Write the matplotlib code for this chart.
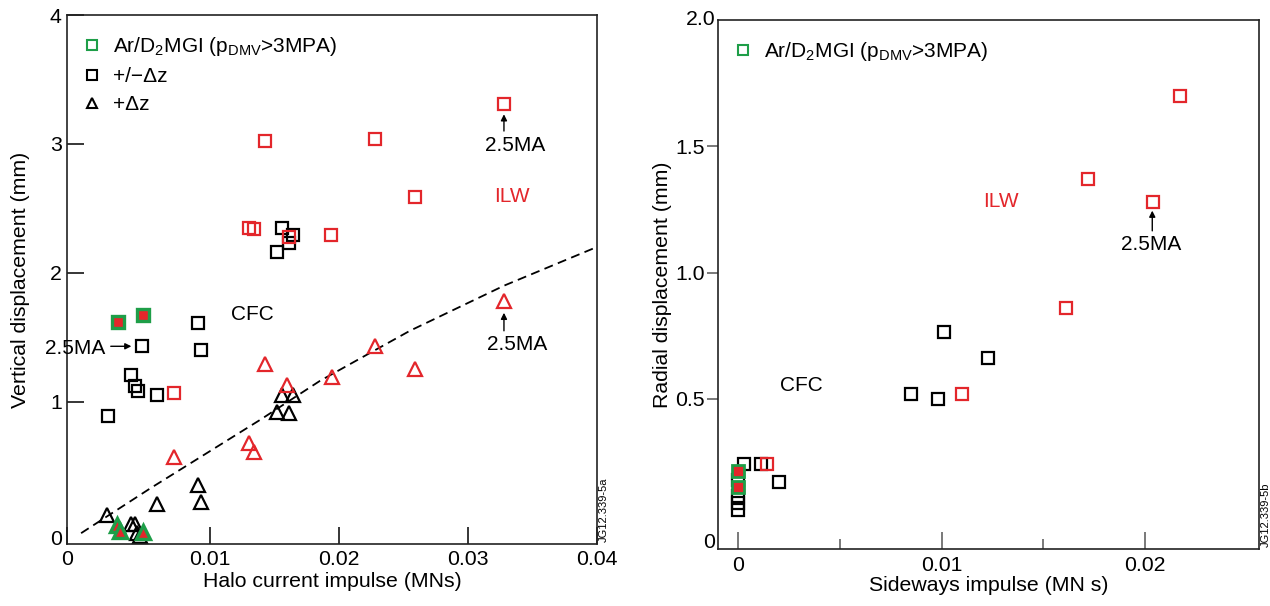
import matplotlib
matplotlib.use('Agg')
import matplotlib.pyplot as plt
from matplotlib.lines import Line2D

plt.rcParams['font.family'] = ['Liberation Sans', 'DejaVu Sans']
plt.rcParams['mathtext.fontset'] = 'custom'
plt.rcParams['mathtext.rm'] = 'Liberation Sans'

RED = '#E3262B'
GREEN = '#1E9E48'

# ---- left panel: vertical displacement vs halo current impulse ----
ilw_sq_x = [0.0328, 0.0143, 0.0228, 0.0259, 0.0194, 0.0130, 0.0134, 0.0161, 0.0072]
ilw_sq_y = [3.31, 3.02, 3.04, 2.59, 2.29, 2.35, 2.34, 2.28, 1.07]
cfc_sq_x = [0.0156, 0.0164, 0.0161, 0.0152, 0.0091, 0.0093, 0.0047, 0.0039, 0.0042, 0.0044, 0.0059, 0.0021]
cfc_sq_y = [2.35, 2.29, 2.23, 2.16, 1.61, 1.40, 1.43, 1.21, 1.12, 1.08, 1.05, 0.89]
mgi_sq_x = [0.0029, 0.0048]
mgi_sq_y = [1.62, 1.67]

ilw_tri_x = [0.0328, 0.0228, 0.0259, 0.0143, 0.0195, 0.0160, 0.0130, 0.0134, 0.0072]
ilw_tri_y = [1.78, 1.43, 1.25, 1.29, 1.19, 1.13, 0.68, 0.61, 0.57]
cfc_tri_x = [0.0156, 0.0164, 0.0152, 0.0161, 0.0091, 0.0093, 0.0059, 0.0020, 0.0039, 0.0042, 0.0043, 0.0046]
cfc_tri_y = [1.05, 1.05, 0.92, 0.91, 0.35, 0.22, 0.21, 0.12, 0.05, 0.05, -0.02, -0.04]
mgi_tri_x = [0.0028, 0.0030, 0.0048]
mgi_tri_y = [0.04, 0.00, -0.01]

fit_x = [0.0, 0.0054, 0.0139, 0.0185, 0.0228, 0.0255, 0.0328, 0.0400]
fit_y = [-0.02, 0.33, 0.86, 1.16, 1.40, 1.55, 1.90, 2.20]

# ---- right panel: radial displacement vs sideways impulse ----
r_ilw_x = [0.0217, 0.0172, 0.0204, 0.0161, 0.0110, 0.0014]
r_ilw_y = [1.70, 1.37, 1.28, 0.86, 0.52, 0.24]
r_cfc_x = [0.0101, 0.0123, 0.0085, 0.0098, 0.0020, 0.0003, 0.0011, 0.0, 0.0, 0.0, 0.0]
r_cfc_y = [0.765, 0.66, 0.52, 0.50, 0.17, 0.24, 0.24, 0.18, 0.115, 0.087, 0.058]
r_mgi_x = [0.0, 0.0]
r_mgi_y = [0.215, 0.152]

fig = plt.figure(figsize=(12.7, 6.06), dpi=100)
ax1 = fig.add_axes([0.0530, 0.1023, 0.4169, 0.8729])
ax2 = fig.add_axes([0.5656, 0.0936, 0.4258, 0.8734])

FS = 15.3
TFS = 15
ms = 9
mew = 1.6
arrow = dict(arrowstyle='-|>', color='black', lw=1, mutation_scale=9, shrinkA=0, shrinkB=0)

# left
ax1.plot(fit_x, fit_y, color='black', lw=1.3, ls=(0, (5, 3)))
ax1.plot(cfc_sq_x, cfc_sq_y, 's', ms=ms, mfc='none', mec='black', mew=mew)
ax1.plot(ilw_sq_x, ilw_sq_y, 's', ms=ms, mfc='none', mec=RED, mew=mew)
ax1.plot(mgi_sq_x, mgi_sq_y, 's', ms=ms, mfc=RED, mec=GREEN, mew=2.4)
ax1.plot(cfc_tri_x, cfc_tri_y, '^', ms=ms + 1, mfc='none', mec='black', mew=mew)
ax1.plot(ilw_tri_x, ilw_tri_y, '^', ms=ms + 1, mfc='none', mec=RED, mew=mew)
ax1.plot(mgi_tri_x, mgi_tri_y, '^', ms=ms + 1, mfc=RED, mec=GREEN, mew=2.4)

ax1.set_xlim(-0.00107, 0.04)
ax1.set_ylim(-0.104, 4)
ax1.set_xticks([-0.00107, 0.01, 0.02, 0.03, 0.04])
ax1.set_xticklabels(['0', '0.01', '0.02', '0.03', '0.04'])
ax1.set_yticks([-0.057, 1, 2, 3, 4])
ax1.set_yticklabels(['0', '1', '2', '3', '4'])
ax1.tick_params(direction='in', length=12, width=1.1, labelsize=FS, pad=4)
ax1.yaxis.get_major_ticks()[0].tick1line.set_visible(False)
ax1.set_xlabel('Halo current impulse (MNs)', fontsize=FS)
ax1.set_ylabel('Vertical displacement (mm)', fontsize=FS)
ax1.xaxis.label.set_va('center')
ax1.yaxis.label.set_va('center')
ax1.xaxis.set_label_coords(0.5, -0.071)
ax1.yaxis.set_label_coords(-0.089, 0.5)

ax1.text(0.0133, 1.68, 'CFC', fontsize=TFS, ha='center', va='center')
ax1.text(0.0334, 2.59, 'ILW', fontsize=TFS, color=RED, ha='center', va='center')
ax1.text(0.0337, 2.99, '2.5MA', fontsize=TFS, ha='center', va='center')
ax1.annotate('', xy=(0.0328, 3.23), xytext=(0.0328, 3.10), arrowprops=arrow)
ax1.text(0.0338, 1.44, '2.5MA', fontsize=TFS, ha='center', va='center')
ax1.annotate('', xy=(0.0328, 1.69), xytext=(0.0328, 1.55), arrowprops=arrow)
ax1.text(-0.0005, 1.41, '2.5MA', fontsize=TFS, ha='center', va='center')
ax1.annotate('', xy=(0.0039, 1.43), xytext=(0.0023, 1.43), arrowprops=arrow)
ax1.text(1.003, 0.004, 'JG12.339-5a', transform=ax1.transAxes, rotation=90,
         fontsize=8, ha='left', va='bottom')

leg1 = [
    Line2D([], [], marker='s', ls='none', ms=6.5, mfc='none', mec=GREEN, mew=1.5,
           label=r'Ar/D$_\mathregular{2}$MGI (p$_\mathregular{DMV}$>3MPA)'),
    Line2D([], [], marker='s', ls='none', ms=6.5, mfc='none', mec='black', mew=1.5,
           label='+/\u2212\u0394z'),
    Line2D([], [], marker='^', ls='none', ms=7, mfc='none', mec='black', mew=1.5,
           label='+\u0394z'),
]
ax1.legend(handles=leg1, loc='upper left', bbox_to_anchor=(0.031, 0.962), frameon=False,
           fontsize=TFS, borderpad=0, borderaxespad=0, handlelength=0.8,
           handletextpad=0.6, labelspacing=0.43)

# right
ax2.plot(r_cfc_x, r_cfc_y, 's', ms=ms, mfc='none', mec='black', mew=mew)
ax2.plot(r_ilw_x, r_ilw_y, 's', ms=ms, mfc='none', mec=RED, mew=mew)
ax2.plot(r_mgi_x, r_mgi_y, 's', ms=ms, mfc=RED, mec=GREEN, mew=2.0)

ax2.set_xlim(-0.00098, 0.0256)
ax2.set_ylim(-0.096, 2.0)
ax2.set_xticks([0, 0.01, 0.02])
ax2.set_xticklabels(['0', '0.01', '0.02'])
ax2.set_xticks([0.005, 0.015], minor=True)
ax2.set_yticks([0.5, 1.0, 1.5])
ax2.set_yticklabels(['0.5', '1.0', '1.5'])
ax2.tick_params(axis='x', which='major', direction='in', length=12, width=1.1,
                color='#555555', labelsize=FS, pad=5)
ax2.tick_params(axis='x', which='minor', direction='in', length=7, width=1.1,
                color='#555555')
ax2.tick_params(axis='y', direction='out', length=8, width=1.1, color='#555555',
                labelsize=FS, pad=2)
# corner labels sit against the spine, without a tick
ax2.text(-0.006, 1.0, '2.0', transform=ax2.transAxes, fontsize=FS, ha='right', va='center')
ax2.text(-0.006, 0.013, '0', transform=ax2.transAxes, fontsize=FS, ha='right', va='center')
ax2.set_xlabel('Sideways impulse (MN s)', fontsize=FS)
ax2.set_ylabel('Radial displacement (mm)', fontsize=FS)
ax2.xaxis.label.set_va('center')
ax2.yaxis.label.set_va('center')
ax2.xaxis.set_label_coords(0.5, -0.068)
ax2.yaxis.set_label_coords(-0.104, 0.5)

ax2.text(0.0031, 0.554, 'CFC', fontsize=TFS, ha='center', va='center')
ax2.text(0.0129, 1.28, 'ILW', fontsize=TFS, color=RED, ha='center', va='center')
ax2.text(0.0203, 1.11, '2.5MA', fontsize=TFS, ha='center', va='center')
ax2.annotate('', xy=(0.02035, 1.245), xytext=(0.02035, 1.165), arrowprops=arrow)
ax2.text(1.003, 0.004, 'JG12.339-5b', transform=ax2.transAxes, rotation=90,
         fontsize=8, ha='left', va='bottom')

leg2 = [
    Line2D([], [], marker='s', ls='none', ms=6.5, mfc='none', mec=GREEN, mew=1.5,
           label=r'Ar/D$_\mathregular{2}$MGI (p$_\mathregular{DMV}$>3MPA)'),
]
ax2.legend(handles=leg2, loc='upper left', bbox_to_anchor=(0.030, 0.962), frameon=False,
           fontsize=TFS, borderpad=0, borderaxespad=0, handlelength=0.8,
           handletextpad=0.6)

for ax in (ax1, ax2):
    for s in ax.spines.values():
        s.set_linewidth(1.2)
        s.set_color('#222222')

fig.savefig('out.png', dpi=100)
